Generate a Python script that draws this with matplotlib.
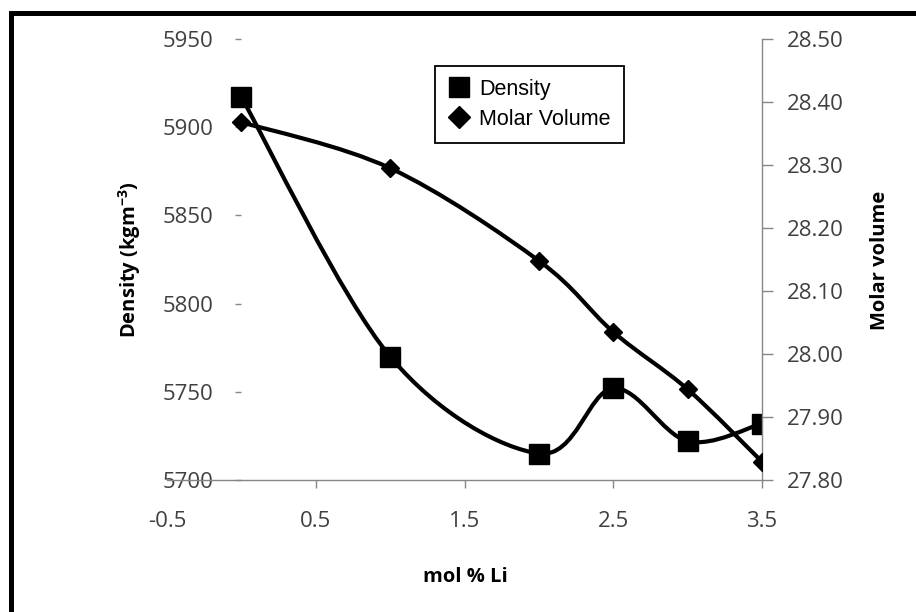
import matplotlib
matplotlib.use("Agg")
import matplotlib.pyplot as plt
from matplotlib.path import Path
from matplotlib.patches import PathPatch
from matplotlib.lines import Line2D
import numpy as np

# ---- data ----
mol_li = [0.0, 1.0, 2.0, 2.5, 3.0, 3.5]
density = [5917, 5770, 5715, 5752, 5722, 5732]
molar_volume = [28.368, 28.295, 28.148, 28.035, 27.944, 27.829]

x_ticks = [-0.5, 0.5, 1.5, 2.5, 3.5]
x_tick_labels = ["-0.5", "0.5", "1.5", "2.5", "3.5"]
dens_ticks = [5700, 5750, 5800, 5850, 5900, 5950]
mv_ticks = [27.80, 27.90, 28.00, 28.10, 28.20, 28.30, 28.40, 28.50]

TICK_FONT = "Open Sans"
TICK_COLOR = "#404040"
AXIS_GRAY = "#868686"


def smooth_path(xs, ys):
    pts = np.column_stack([xs, ys]).astype(float)
    n = len(pts)
    verts = [pts[0]]
    codes = [Path.MOVETO]
    for i in range(n - 1):
        p0 = pts[i - 1] if i > 0 else pts[i]
        p1 = pts[i]
        p2 = pts[i + 1]
        p3 = pts[i + 2] if i + 2 < n else pts[i + 1]
        c1 = p1 + (p2 - p0) / 6.0
        c2 = p2 - (p3 - p1) / 6.0
        verts += [c1, c2, p2]
        codes += [Path.CURVE4] * 3
    return Path(verts, codes)


W, H = 916, 612
fig = plt.figure(figsize=(W / 100, H / 100), dpi=100)
ax = fig.add_axes([167 / W, 1 - 480 / H, 595 / W, 441 / H])
ax2 = ax.twinx()

ax.set_xlim(-0.5, 3.5)
ax.set_ylim(5700, 5950)
ax2.set_ylim(27.80, 28.50)

# density curve and markers
ax.add_patch(PathPatch(smooth_path(mol_li, density), fill=False, lw=3.0,
                       edgecolor="black", zorder=3, capstyle="round"))
ax.plot(mol_li, density, ls="none", marker="s", ms=14, color="black", zorder=4)

# molar volume curve and markers
ax2.add_patch(PathPatch(smooth_path(mol_li, molar_volume), fill=False, lw=3.0,
                        edgecolor="black", zorder=3, capstyle="round"))
ax2.plot(mol_li, molar_volume, ls="none", marker="D", ms=9.5, color="black", zorder=4)

# spines
for a in (ax, ax2):
    a.spines["top"].set_visible(False)
ax.spines["right"].set_visible(False)
ax.spines["left"].set_position(("data", 0))
ax.spines["left"].set_visible(False)
ax.spines["bottom"].set_color(AXIS_GRAY)
ax.spines["bottom"].set_linewidth(1.0)
ax2.spines["left"].set_visible(False)
ax2.spines["bottom"].set_visible(False)
ax2.spines["right"].set_color(AXIS_GRAY)
ax2.spines["right"].set_linewidth(1.0)

# x ticks
ax.set_xticks(x_ticks)
ax.set_xticklabels(x_tick_labels)
ax.tick_params(axis="x", direction="out", length=6, width=1, color=AXIS_GRAY,
               pad=16, labelsize=16, labelcolor=TICK_COLOR)

# left y ticks (axis crosses at x=0)
ax.set_yticks(dens_ticks)
ax.set_yticklabels([str(v) for v in dens_ticks])
ax.tick_params(axis="y", direction="out", length=4, width=1, color=AXIS_GRAY,
               pad=16, labelsize=16, labelcolor=TICK_COLOR)

# right y ticks
ax2.set_yticks(mv_ticks)
ax2.set_yticklabels([f"{v:.2f}" for v in mv_ticks])
ax2.tick_params(axis="y", direction="out", length=8, width=1, color=AXIS_GRAY,
                pad=10, labelsize=16, labelcolor=TICK_COLOR)

for lab in ax.get_xticklabels() + ax.get_yticklabels() + ax2.get_yticklabels():
    lab.set_fontfamily(TICK_FONT)
for lab in ax.get_yticklabels():
    lab.set_bbox(dict(facecolor="white", edgecolor="none", pad=0))

# axis titles
fig.text(465 / W, 1 - 577 / H, "mol % Li", ha="center", va="center",
         fontsize=14.5, fontweight="bold", family=TICK_FONT)
fig.text(130 / W, 1 - 260 / H, "Density (kgm$\\mathregular{^{-3}}$)", ha="center", va="center",
         rotation=90, fontsize=14.5, fontweight="bold", family=TICK_FONT)
fig.text(880 / W, 1 - 260 / H, "Molar volume", ha="center", va="center",
         rotation=90, fontsize=14.5, fontweight="bold", family=TICK_FONT)

# legend
handles = [
    Line2D([], [], ls="none", marker="s", ms=14.5, color="black", label="Density"),
    Line2D([], [], ls="none", marker="D", ms=11, color="black", label="Molar Volume"),
]
leg = fig.legend(handles=handles, loc="upper left",
                 bbox_to_anchor=(435 / W, 1 - 66 / H), bbox_transform=fig.transFigure,
                 frameon=True, fancybox=False, edgecolor="black", framealpha=1,
                 prop={"family": "Liberation Sans", "size": 15.5},
                 handlelength=1.0, handletextpad=0.45, borderpad=0.6,
                 labelspacing=0.42, borderaxespad=0)
leg.get_frame().set_linewidth(1.3)

# outer frame (left and top only visible)
fig.add_artist(Line2D([10.5 / W, 10.5 / W], [0, 1 - 13 / H], transform=fig.transFigure,
                      color="black", lw=3.6, solid_capstyle="projecting"))
fig.add_artist(Line2D([10.5 / W, 1], [1 - 13 / H, 1 - 13 / H], transform=fig.transFigure,
                      color="black", lw=3.6, solid_capstyle="projecting"))

fig.savefig("out.png", dpi=100, facecolor="white")
